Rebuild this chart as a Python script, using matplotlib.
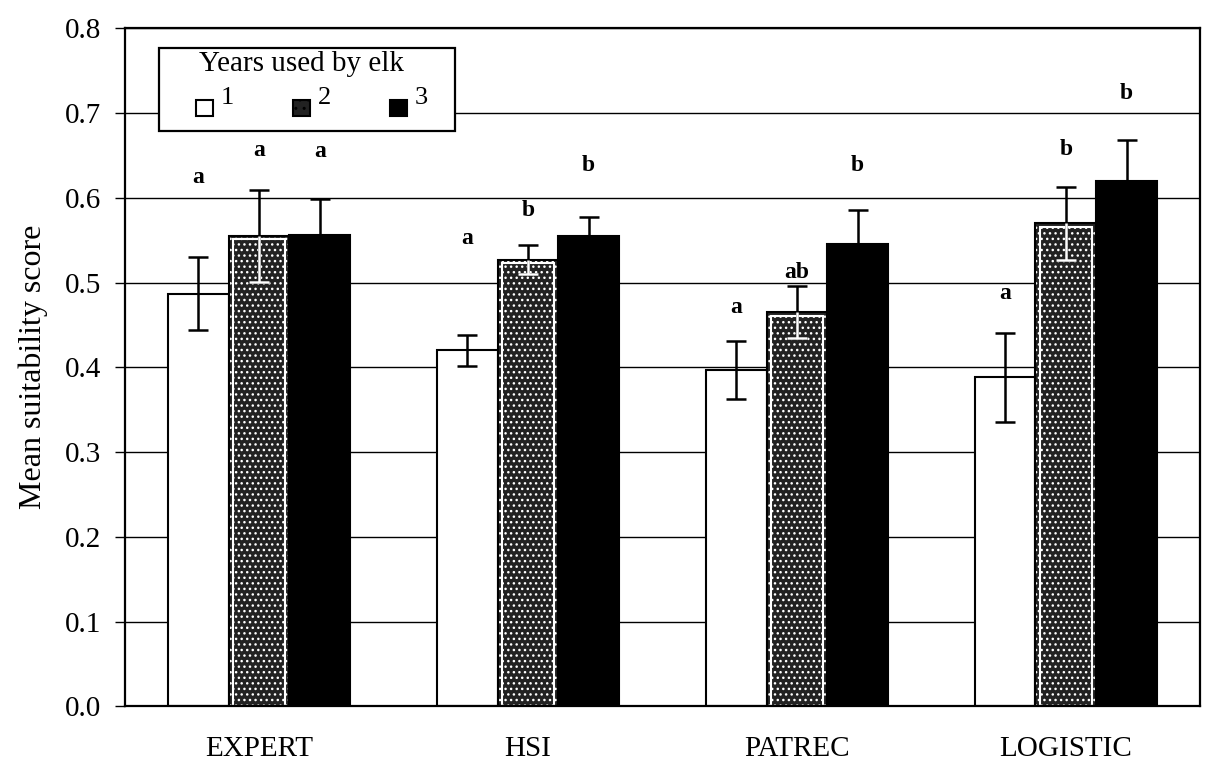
import numpy as np
import matplotlib.pyplot as plt
from matplotlib.patches import Rectangle

plt.rcParams['font.family'] = ['Liberation Serif', 'DejaVu Serif']
plt.rcParams['hatch.linewidth'] = 1.0

models = ['EXPERT', 'HSI', 'PATREC', 'LOGISTIC']
years = ['1', '2', '3']

# mean suitability score and standard error, one list per number of years used
mean_1 = [0.487, 0.420, 0.397, 0.388]
mean_2 = [0.555, 0.527, 0.465, 0.570]
mean_3 = [0.556, 0.555, 0.545, 0.620]
se_1 = [0.043, 0.018, 0.034, 0.052]
se_2 = [0.054, 0.017, 0.031, 0.043]
se_3 = [0.043, 0.022, 0.040, 0.048]

# significance letters and the height they sit at
letters_1 = ['a', 'a', 'a', 'a']
letters_2 = ['a', 'b', 'ab', 'b']
letters_3 = ['a', 'b', 'b', 'b']
letter_y_1 = [0.624, 0.552, 0.470, 0.487]
letter_y_2 = [0.656, 0.585, 0.512, 0.657]
letter_y_3 = [0.654, 0.638, 0.638, 0.723]

STIPPLE = '#222222'

x = np.arange(len(models))
w = 0.226

fig = plt.figure(figsize=(12.1, 7.62), dpi=100)
ax = fig.add_axes([0.103, 0.073, 0.889, 0.890])

ax.set_axisbelow(True)
ax.yaxis.grid(True, color='black', linewidth=1.0)

# year 1: plain white
ax.bar(x - w, mean_1, w, color='white', edgecolor='black', linewidth=1.5, zorder=2)
# year 2: dark stipple with a thin white rim
ax.bar(x, mean_2, w, color=STIPPLE, edgecolor='white', hatch='...', linewidth=0, zorder=2)
ax.bar(x, [m - 0.004 for m in mean_2], w * 0.86, fill=False, edgecolor='white', linewidth=1.5, zorder=2)
ax.bar(x, mean_2, w, fill=False, edgecolor='black', linewidth=1.5, zorder=3)
# year 3: solid black
ax.bar(x + w, mean_3, w, color='black', edgecolor='black', linewidth=1.5, zorder=2)

for off, m, se in [(-w, mean_1, se_1), (0, mean_2, se_2), (w, mean_3, se_3)]:
    ax.errorbar(x + off, m, yerr=se, fmt='none', ecolor='black', elinewidth=1.8,
                capsize=7, capthick=1.8, zorder=4)

# lower half of the year-2 whiskers shows white against the stipple
low_2 = [m - s for m, s in zip(mean_2, se_2)]
ax.vlines(x, low_2, mean_2, color='white', linewidth=1.8, zorder=5)
ax.plot(x, low_2, '_', ms=14, mew=1.8, color='white', zorder=5)

for off, labs, ys in [(-w, letters_1, letter_y_1), (0, letters_2, letter_y_2), (w, letters_3, letter_y_3)]:
    for xi, lab, yi in zip(x + off, labs, ys):
        ax.text(xi, yi, lab, ha='center', va='center', fontsize=17, fontweight='bold')

ax.set_xlim(-0.5, 3.5)
ax.set_ylim(0, 0.8)
ax.set_yticks(np.arange(0, 0.81, 0.1))
ax.set_yticklabels(['%.1f' % v for v in np.arange(0, 0.81, 0.1)], fontsize=21)
ax.set_xticks(x)
ax.set_xticklabels(models, fontsize=21)
ax.tick_params(axis='x', length=0, pad=21)
ax.tick_params(axis='y', length=7, width=1, direction='out', pad=10)
ax.set_ylabel('Mean suitability score', fontsize=23, labelpad=12)
for s in ax.spines.values():
    s.set_linewidth(1.6)

# legend box drawn by hand so the year numbers sit raised beside the swatches
ax.add_patch(Rectangle((0.032, 0.848), 0.275, 0.1225, transform=ax.transAxes,
                       facecolor='white', edgecolor='black', linewidth=1.6, zorder=6))
ax.text(0.164, 0.947, 'Years used by elk', transform=ax.transAxes, ha='center', va='center',
        fontsize=21, zorder=7)
swatches = [dict(facecolor='white', edgecolor='black'),
            dict(facecolor=STIPPLE, edgecolor='black', hatch='..'),
            dict(facecolor='black', edgecolor='black')]
for i, (yr, sw) in enumerate(zip(years, swatches)):
    x0 = 0.066 + i * 0.0903
    ax.add_patch(Rectangle((x0, 0.870), 0.0158, 0.0236, transform=ax.transAxes,
                           linewidth=1.5, zorder=7, **sw))
    ax.text(x0 + 0.0235, 0.897, yr, transform=ax.transAxes, ha='left', va='center',
            fontsize=19, zorder=7)

fig.savefig('out.png', dpi=100)
